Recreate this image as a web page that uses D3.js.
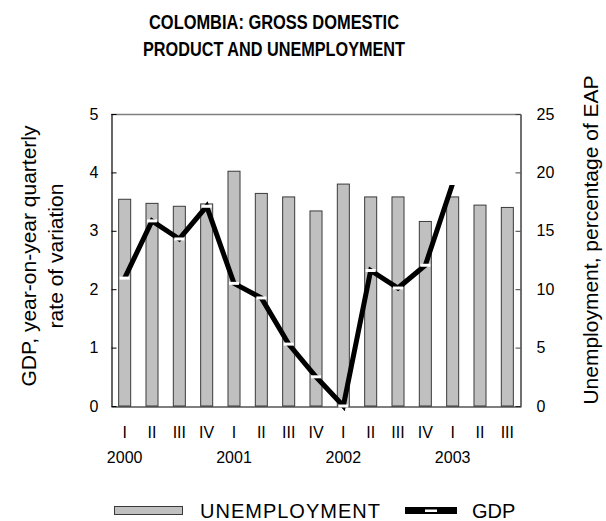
<!DOCTYPE html>
<html>
<head>
<meta charset="utf-8">
<script src="https://cdn.jsdelivr.net/npm/d3@7"></script>
<style>
  body { margin: 0; background: #fff; }
  svg { font-family: Arial, 'Liberation Sans', sans-serif; }
</style>
</head>
<body>
<div id="chart"></div>
<script>
'use strict';

// quarters 2000 I .. 2003 III
var periods = ['2000-I', '2000-II', '2000-III', '2000-IV',
               '2001-I', '2001-II', '2001-III', '2001-IV',
               '2002-I', '2002-II', '2002-III', '2002-IV',
               '2003-I', '2003-II', '2003-III'];
var quarterLabels = ['I', 'II', 'III', 'IV', 'I', 'II', 'III', 'IV',
                     'I', 'II', 'III', 'IV', 'I', 'II', 'III'];
var yearLabels = ['2000', '2001', '2002', '2003'];

// unemployment, percentage of EAP (right axis)
var unemployment = [17.7, 17.35, 17.1, 17.3, 20.1, 18.2, 17.9, 16.7,
                    19.0, 17.9, 17.9, 15.8, 17.9, 17.2, 17.0];
// GDP, year-on-year quarterly rate of variation (left axis), up to 2003-I
var gdp = [2.19, 3.17, 2.86, 3.42, 2.10, 1.85, 1.06, 0.50,
           0.0, 2.32, 2.02, 2.41, 3.81];

var gdpTicks = [0, 1, 2, 3, 4, 5];
var unempTicks = [0, 5, 10, 15, 20, 25];

var width = 606,
    height = 521,
    plotLeft = 111,
    plotRight = 521,
    plotTop = 114,
    plotBottom = 406;

var svg = d3.select('#chart')
    .append('svg')
    .attr('width', width)
    .attr('height', height);

var x = d3.scaleBand()
    .domain(periods)
    .range([plotLeft, plotRight])
    .paddingInner(0.56)
    .paddingOuter(0.28);

var yLeft = d3.scaleLinear().domain([0, 5]).range([plotBottom, plotTop]);
var yRight = d3.scaleLinear().domain([0, 25]).range([plotBottom, plotTop]);

// frame top line
svg.append('line')
    .attr('x1', plotLeft).attr('x2', plotRight)
    .attr('y1', plotTop + 0.5).attr('y2', plotTop + 0.5)
    .attr('stroke', '#808080')
    .attr('stroke-width', 1.5);

// bars
svg.append('g')
    .selectAll('rect')
    .data(unemployment)
    .enter()
    .append('rect')
    .attr('x', function(d, i) { return x(periods[i]); })
    .attr('width', x.bandwidth())
    .attr('y', function(d) { return yRight(d); })
    .attr('height', function(d) { return plotBottom - yRight(d); })
    .attr('fill', '#c0c0c0')
    .attr('stroke', '#3a3a3a')
    .attr('stroke-width', 1);

// left axis
var axL = svg.append('g')
    .attr('transform', 'translate(' + (plotLeft + 0.5) + ',0)')
    .call(d3.axisLeft(yLeft).tickValues(gdpTicks).tickFormat(d3.format('d'))
        .tickSizeInner(-5).tickSizeOuter(0).tickPadding(13));
axL.select('.domain').attr('stroke', '#000').attr('stroke-width', 1.2);
axL.selectAll('.tick line').attr('stroke', '#000');
axL.selectAll('text').attr('font-size', 16).attr('fill', '#000');

// right axis
var axR = svg.append('g')
    .attr('transform', 'translate(' + (plotRight - 0.5) + ',0)')
    .call(d3.axisRight(yRight).tickValues(unempTicks).tickFormat(d3.format('d'))
        .tickSizeInner(-5).tickSizeOuter(0).tickPadding(16));
axR.select('.domain').attr('stroke', '#404040').attr('stroke-width', 1.5);
axR.selectAll('.tick line').attr('stroke', '#404040');
axR.selectAll('text').attr('font-size', 16).attr('fill', '#000');

// bottom axis with quarter labels
var axB = svg.append('g')
    .attr('transform', 'translate(0,' + (plotBottom + 0.5) + ')')
    .call(d3.axisBottom(x).tickSize(0).tickPadding(20)
        .tickFormat(function(d, i) { return quarterLabels[i]; }));
axB.select('.domain').attr('stroke', '#000').attr('stroke-width', 1.2);
axB.selectAll('text').attr('font-size', 16).attr('fill', '#000');

svg.append('g')
    .selectAll('text')
    .data(yearLabels)
    .enter()
    .append('text')
    .attr('x', function(d, i) { return x(periods[i * 4]) + x.bandwidth() / 2; })
    .attr('y', 463)
    .attr('text-anchor', 'middle')
    .attr('font-size', 16)
    .text(function(d) { return d; });

// GDP line
var line = d3.line()
    .x(function(d, i) { return x(periods[i]) + x.bandwidth() / 2; })
    .y(function(d) { return yLeft(d); });

svg.append('path')
    .datum(gdp)
    .attr('d', line)
    .attr('fill', 'none')
    .attr('stroke', '#000')
    .attr('stroke-width', 5)
    .attr('stroke-linejoin', 'miter');

svg.append('g')
    .selectAll('rect')
    .data(gdp)
    .enter()
    .append('rect')
    .attr('x', function(d, i) { return x(periods[i]) + x.bandwidth() / 2 - 5; })
    .attr('y', function(d) { return yLeft(d) - 1.5; })
    .attr('width', 10)
    .attr('height', 3)
    .attr('fill', '#fff');

// title (slightly condensed)
svg.append('text')
    .attr('x', 274).attr('y', 29)
    .attr('text-anchor', 'middle')
    .attr('font-size', 20).attr('font-weight', 'bold')
    .attr('textLength', 250).attr('lengthAdjust', 'spacingAndGlyphs')
    .text('COLOMBIA: GROSS DOMESTIC');
svg.append('text')
    .attr('x', 274).attr('y', 56)
    .attr('text-anchor', 'middle')
    .attr('font-size', 20).attr('font-weight', 'bold')
    .attr('textLength', 262).attr('lengthAdjust', 'spacingAndGlyphs')
    .text('PRODUCT AND UNEMPLOYMENT');

// axis titles
var yl = svg.append('text')
    .attr('transform', 'translate(36,256) rotate(-90)')
    .attr('text-anchor', 'middle')
    .attr('font-size', 21);
yl.append('tspan').attr('x', 0).attr('dy', 0).text('GDP, year-on-year quarterly');
yl.append('tspan').attr('x', 0).attr('dy', 27).text('rate of variation');

svg.append('text')
    .attr('transform', 'translate(598,240) rotate(-90)')
    .attr('text-anchor', 'middle')
    .attr('font-size', 21)
    .text('Unemployment, percentage of EAP');

// legend
svg.append('rect')
    .attr('x', 114.5).attr('y', 506.5)
    .attr('width', 68).attr('height', 8)
    .attr('fill', '#c0c0c0')
    .attr('stroke', '#3a3a3a');
svg.append('text')
    .attr('x', 200).attr('y', 518)
    .attr('font-size', 20)
    .attr('letter-spacing', 1)
    .text('UNEMPLOYMENT');
svg.append('rect')
    .attr('x', 405).attr('y', 507)
    .attr('width', 52).attr('height', 7)
    .attr('fill', '#000');
svg.append('rect')
    .attr('x', 425).attr('y', 509.5)
    .attr('width', 12).attr('height', 2.5)
    .attr('fill', '#fff');
svg.append('text')
    .attr('x', 472).attr('y', 518)
    .attr('font-size', 20)
    .text('GDP');
</script>
</body>
</html>
